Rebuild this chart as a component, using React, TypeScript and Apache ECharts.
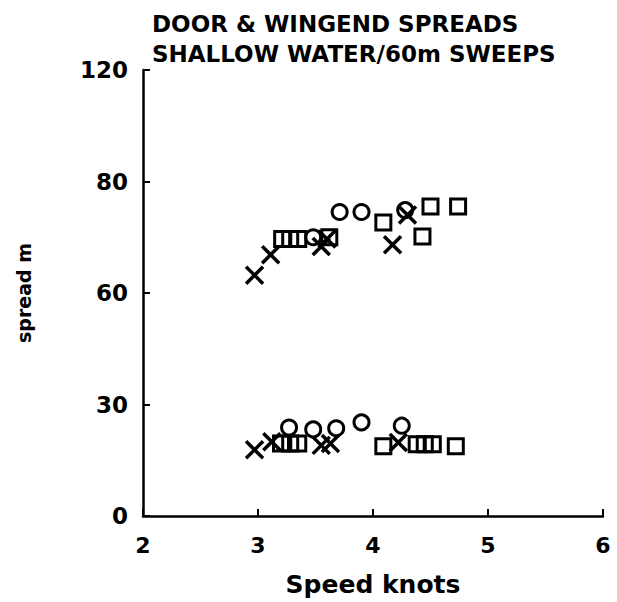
import React, { useEffect, useRef } from "react";
import * as echarts from "echarts";

const titleLines = ["DOOR & WINGEND SPREADS", "SHALLOW WATER/60m SWEEPS"];
const xTicks = ["2", "3", "4", "5", "6"];
const yTickValues = [0, 30, 60, 90, 120];
const yTickLabels = ["0", "30", "60", "80", "120"];
const xName = "Speed knots";
const yName = "spread m";

const circles: [number, number][] = [
  [3.48, 75], [3.71, 81.8], [3.9, 81.8], [4.28, 82.3],
  [3.27, 23.8], [3.48, 23.3], [3.68, 23.6], [3.9, 25.2], [4.25, 24.3],
];
const squares: [number, number][] = [
  [3.21, 74.5], [3.28, 74.5], [3.35, 74.5], [3.62, 75], [4.09, 79], [4.43, 75.2], [4.5, 83.3], [4.74, 83.3],
  [3.2, 19.5], [3.28, 19.5], [3.35, 19.5], [4.09, 18.8], [4.38, 19.3], [4.45, 19.3], [4.52, 19.3], [4.72, 18.8],
];
const crosses: [number, number][] = [
  [2.97, 64.8], [3.11, 70.3], [3.55, 72.5], [3.6, 74.5], [4.17, 73], [4.3, 81],
  [2.97, 17.8], [3.12, 20], [3.55, 19], [3.63, 19.5], [4.22, 19.8],
];

const FONT = "DejaVu Sans";

export default function App() {
  const ref = useRef<HTMLDivElement>(null);
  useEffect(() => {
    const chart = echarts.init(ref.current!, null, { renderer: "svg" });
    const markerStyle = {
      color: "rgba(0,0,0,0)",
      borderColor: "#000",
      borderWidth: 3,
      opacity: 1,
    };
    chart.setOption({
      animation: false,
      backgroundColor: "#fff",
      title: {
        text: titleLines.join("\n"),
        left: 147,
        top: 4,
        textStyle: {
          fontFamily: FONT,
          fontWeight: "bold",
          fontSize: 23,
          lineHeight: 30,
          color: "#000",
        },
      },
      grid: { left: 143, top: 70, right: 14, bottom: 84, containLabel: false },
      xAxis: {
        type: "value",
        min: 2,
        max: 6,
        interval: 1,
        name: xName,
        nameLocation: "middle",
        nameGap: 56,
        nameTextStyle: { fontFamily: FONT, fontWeight: "bold", fontSize: 25, color: "#000" },
        axisLine: { onZero: false, lineStyle: { color: "#000", width: 2.5 } },
        axisTick: { inside: true, length: 7, lineStyle: { color: "#000", width: 2 } },
        axisLabel: {
          margin: 18,
          fontFamily: FONT,
          fontWeight: "bold",
          fontSize: 22,
          color: "#000",
          formatter: (v: number) => xTicks[Math.round(v) - 2] ?? "",
        },
        splitLine: { show: false },
      },
      yAxis: {
        type: "value",
        min: 0,
        max: 120,
        interval: 30,
        name: yName,
        nameLocation: "middle",
        nameGap: 110,
        nameRotate: 90,
        nameTextStyle: { fontFamily: FONT, fontWeight: "bold", fontSize: 19, color: "#000" },
        axisLine: { onZero: false, lineStyle: { color: "#000", width: 2.5 } },
        axisTick: { inside: true, length: 7, lineStyle: { color: "#000", width: 2 } },
        axisLabel: {
          margin: 15,
          fontFamily: FONT,
          fontWeight: "bold",
          fontSize: 23,
          color: "#000",
          formatter: (v: number) => {
            const i = yTickValues.indexOf(Math.round(v));
            return i >= 0 ? yTickLabels[i] : "";
          },
        },
        splitLine: { show: false },
      },
      series: [
        {
          type: "scatter",
          name: "circle",
          data: circles,
          symbol: "circle",
          symbolSize: 15,
          itemStyle: markerStyle,
        },
        {
          type: "scatter",
          name: "square",
          data: squares,
          symbol: "rect",
          symbolSize: 15,
          itemStyle: markerStyle,
        },
        {
          type: "scatter",
          name: "cross",
          data: crosses,
          symbol: "path://M0,0L10,10M10,0L0,10",
          symbolSize: 17,
          itemStyle: { color: "rgba(0,0,0,0)", borderColor: "#000", borderWidth: 3.5, opacity: 1 },
        },
      ],
    });
    return () => chart.dispose();
  }, []);
  return <div ref={ref} style={{ width: 617, height: 602, position: "absolute", left: 0, top: 0 }} />;
}
